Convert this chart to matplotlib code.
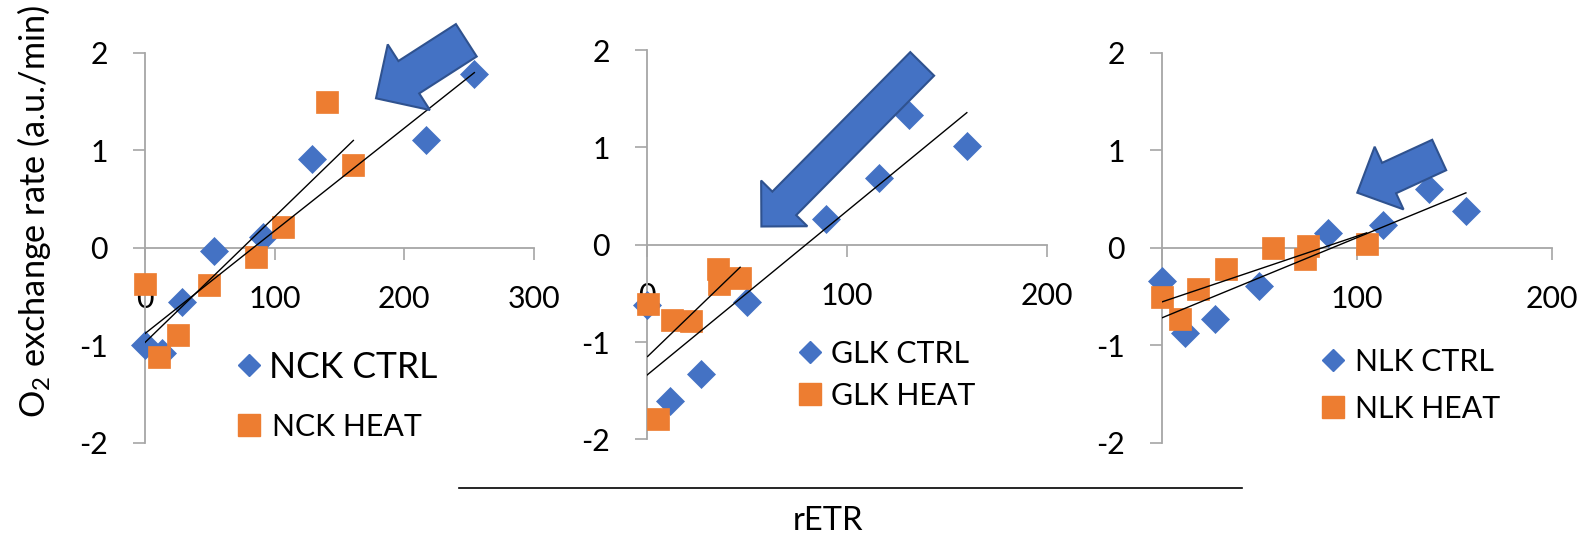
import matplotlib
matplotlib.use('Agg')
import matplotlib.pyplot as plt
from matplotlib.lines import Line2D
from matplotlib.patches import FancyArrow
from matplotlib.transforms import IdentityTransform
import numpy as np

plt.rcParams['font.family'] = ['Lato', 'DejaVu Sans']
plt.rcParams['axes.unicode_minus'] = False

# figure size in pixels (dpi 100)
W, H = 1586, 534
BLUE = '#4472C4'
ORANGE = '#ED7D31'
GRAY = '#A6A6A6'
FS = 21.8

# values (rETR, O2 exchange rate)
nck_ctrl_x = [0, 12.8, 28.5, 53.1, 91, 129, 217, 254]
nck_ctrl_y = [-1.0, -1.08, -0.56, -0.03, 0.11, 0.91, 1.10, 1.78]
nck_heat_x = [0, 11, 25.2, 49.3, 85.5, 106.5, 140.4, 160.7]
nck_heat_y = [-0.37, -1.12, -0.90, -0.38, -0.10, 0.215, 1.49, 0.85]

glk_ctrl_x = [0, 11.7, 26.8, 49.9, 89.4, 115.9, 131.3, 160]
glk_ctrl_y = [-0.62, -1.61, -1.33, -0.59, 0.265, 0.69, 1.33, 1.01]
glk_heat_x = [0.3, 5.4, 12.6, 21.8, 35.7, 36, 46.6]
glk_heat_y = [-0.61, -1.79, -0.77, -0.78, -0.25, -0.40, -0.34]

nlk_ctrl_x = [0, 12, 27.2, 50.1, 85.5, 113.7, 137.3, 156]
nlk_ctrl_y = [-0.34, -0.87, -0.735, -0.39, 0.147, 0.23, 0.60, 0.38]
nlk_heat_x = [0.3, 9.4, 18.6, 33, 57.3, 74.9, 73.7, 105.1]
nlk_heat_y = [-0.51, -0.73, -0.42, -0.215, 0.0, 0.017, -0.12, 0.034]

yticks = [-2, -1, 0, 1, 2]


def px_axes(x0, x1, ytop, ybot):
    # axes box from pixel positions (y measured from top)
    return [x0 / W, 1 - ybot / H, (x1 - x0) / W, (ybot - ytop) / H]


def add_key(fig, handle, label, mx, my, tx, fs):
    # one legend entry: marker centre (mx, my) and text left edge tx, in pixels
    fs_px = fs * 100 / 72
    hl = 0.6
    left = mx - hl * fs_px / 2
    pad = (tx - left - hl * fs_px) / fs_px
    fig.legend(handles=[handle], labels=[label], loc='center left',
               bbox_to_anchor=(left / W, 1 - my / H), frameon=False,
               borderpad=0, borderaxespad=0, handlelength=hl,
               handletextpad=pad, fontsize=fs)


def panel(fig, box, cx, cy, hx, hy, xmax, xticks):
    ax = fig.add_axes(box)
    ax.plot(cx, cy, 'D', color=BLUE, ms=13.8, mew=0.5, clip_on=False, zorder=3)
    ax.plot(hx, hy, 's', color=ORANGE, ms=16, mew=0.5, clip_on=False, zorder=4)
    # linear trendlines over each series range
    for x, y in [(cx, cy), (hx, hy)]:
        slope, icpt = np.polyfit(x, y, 1)
        xs = np.array([min(x), max(x)])
        ax.plot(xs, slope * xs + icpt, color='black', lw=1, zorder=5)
    ax.set_xlim(0, xmax)
    ax.set_ylim(-2, 2)
    ax.set_xticks(xticks)
    ax.set_yticks(yticks)
    ax.spines['top'].set_visible(False)
    ax.spines['right'].set_visible(False)
    ax.spines['bottom'].set_position(('data', 0))
    for s in ['left', 'bottom']:
        ax.spines[s].set_color(GRAY)
        ax.spines[s].set_linewidth(1.3)
    ax.tick_params(direction='out', length=8.6, width=1.2, color=GRAY,
                   labelsize=FS, pad=18)
    ax.patch.set_alpha(0)
    return ax


fig = plt.figure(figsize=(W / 100, H / 100), dpi=100)

panel(fig, px_axes(145, 534, 52.7, 442.7), nck_ctrl_x, nck_ctrl_y,
      nck_heat_x, nck_heat_y, 300, [0, 100, 200, 300])
panel(fig, px_axes(647, 1046.8, 50.1, 439.4), glk_ctrl_x, glk_ctrl_y,
      glk_heat_x, glk_heat_y, 200, [0, 100, 200])
panel(fig, px_axes(1161.7, 1551.7, 52.7, 442.7), nlk_ctrl_x, nlk_ctrl_y,
      nlk_heat_x, nlk_heat_y, 200, [0, 100, 200])

# legend keys
diamond = Line2D([], [], ls='none', marker='D', ms=11.2, color=BLUE)
square = Line2D([], [], ls='none', marker='s', ms=16, color=ORANGE)
add_key(fig, diamond, 'NCK CTRL', 249.3, 367, 269, 25.6)
add_key(fig, square, 'NCK HEAT', 249.3, 427, 271.7, FS)
add_key(fig, diamond, 'GLK CTRL', 810, 354, 831.2, FS)
add_key(fig, square, 'GLK HEAT', 810, 396, 831.2, FS)
add_key(fig, diamond, 'NLK CTRL', 1333.3, 362, 1355, FS)
add_key(fig, square, 'NLK HEAT', 1333.3, 409, 1355, FS)

# block arrows: tail centre, tip, shaft width, head width, head length (px)
arrows = [
    ((466.3, 40.3), (376, 98.3), 38.5, 78, 39),
    ((922.2, 63.9), (761.4, 226.5), 33.5, 65, 32.5),
    ((1439.2, 155), (1357.3, 192.7), 33.5, 69, 35),
]
for (tx, ty), (hx, hy), w, hw, hl in arrows:
    arr = FancyArrow(tx, H - ty, hx - tx, ty - hy, width=w, head_width=hw,
                     head_length=hl, length_includes_head=True,
                     transform=IdentityTransform(), facecolor=BLUE,
                     edgecolor='#2F528F', lw=1.5, zorder=10)
    fig.add_artist(arr)

# shared axis titles
fig.text(34 / W, 1 - 211.7 / H, r'O$_\mathregular{2}$ exchange rate (a.u./min)',
         rotation=90, ha='center', va='center', fontsize=24.7)
fig.add_artist(Line2D([459.3 / W, 1242.3 / W], [1 - 488.3 / H] * 2,
                      color='black', lw=1.2))
fig.text(828 / W, 1 - 530 / H, 'rETR', ha='center', va='baseline', fontsize=23.5)

fig.savefig('out.png', dpi=100)
